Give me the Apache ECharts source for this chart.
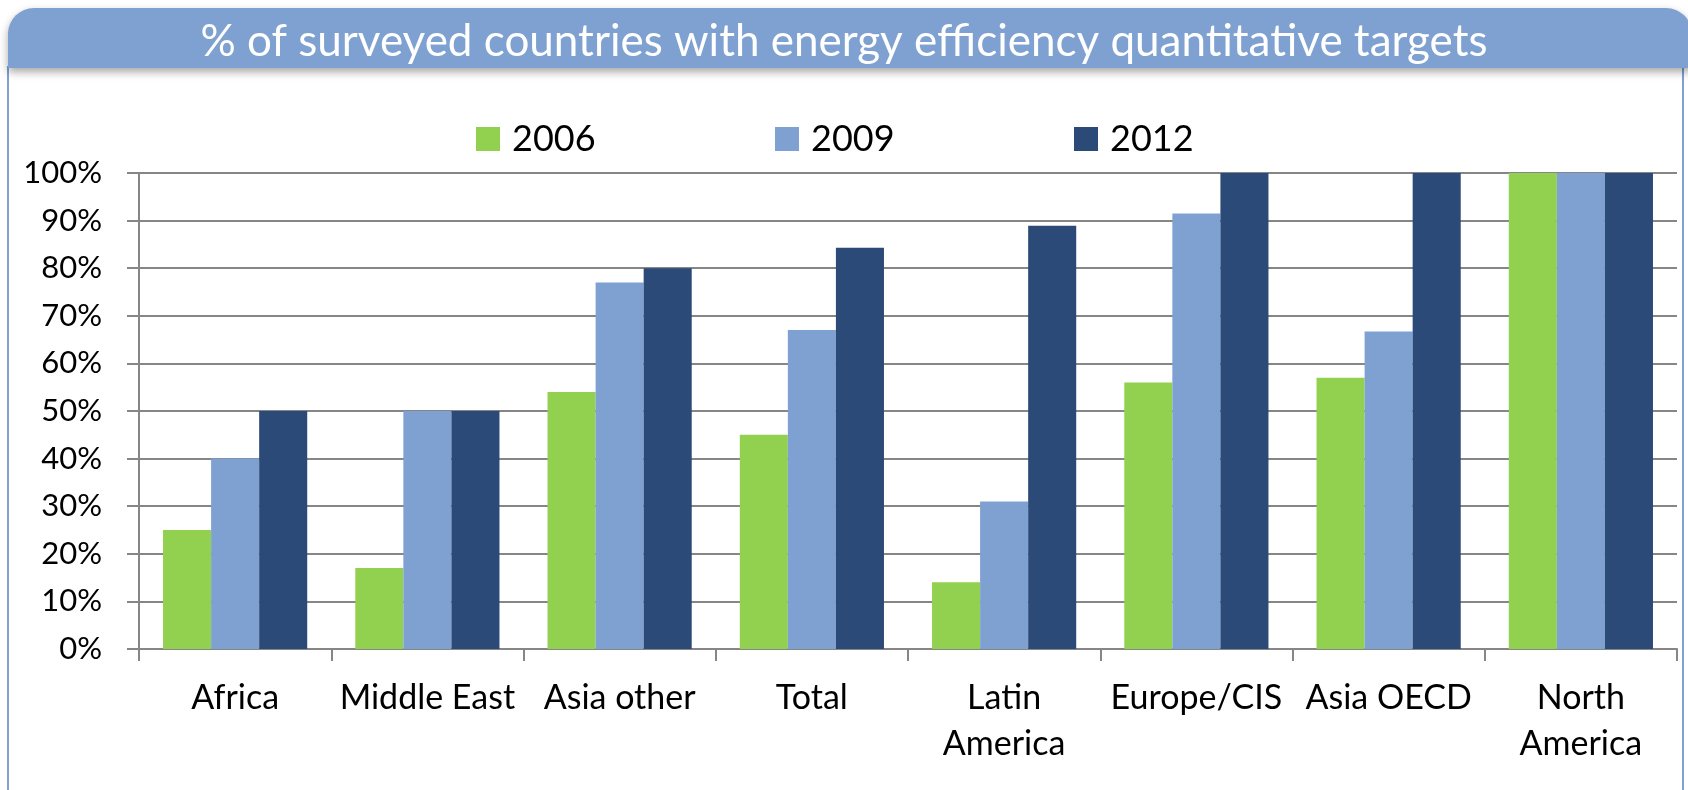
<!DOCTYPE html>
<html>
<head>
<meta charset="utf-8">
<script src="https://cdn.jsdelivr.net/npm/echarts@6/dist/echarts.min.js"></script>
<style>
html,body{margin:0;padding:0;background:#fff;}
#chart{width:1688px;height:790px;}
</style>
</head>
<body>
<div id="chart"></div>
<script>
const titleText = '% of surveyed countries with energy efficiency quantitative targets';
const categories = ['Africa', 'Middle East', 'Asia other', 'Total', 'Latin\nAmerica', 'Europe/CIS', 'Asia OECD', 'North\nAmerica'];
const seriesNames = ['2006', '2009', '2012'];
const values2006 = [25, 17, 54, 45, 14, 56, 57, 100];
const values2009 = [40, 50, 77, 67, 31, 91.5, 66.7, 100];
const values2012 = [50, 50, 80, 84.3, 88.9, 100, 100, 100];
const yTicks = [0, 10, 20, 30, 40, 50, 60, 70, 80, 90, 100];

const colors = ['#92D050', '#7FA1D1', '#2C4A77'];
const FONT = 'Lato';
const chart = echarts.init(document.getElementById('chart'));

function legendAt(name, left) {
  return {
    data: [name],
    left: left,
    top: 114,
    icon: 'rect',
    itemWidth: 24,
    itemHeight: 24,
    selectedMode: false,
    textStyle: {fontFamily: FONT, fontSize: 36, color: '#000', lineHeight: 40, padding: [0, 0, 0, 7]}
  };
}

const seriesData = [values2006, values2009, values2012];

chart.setOption({
  animation: false,
  title: {
    text: titleText,
    left: 'center',
    top: 12,
    textStyle: {fontFamily: FONT, fontWeight: 'normal', fontSize: 44, color: '#fff', lineHeight: 50}
  },
  graphic: [
    {
      type: 'rect', z: -10, silent: true,
      shape: {x: 8, y: 67, width: 1675, height: 740},
      style: {fill: '#fff', stroke: '#7EA1D2', lineWidth: 2}
    },
    {
      type: 'rect', z: -5, silent: true,
      shape: {x: 8, y: 8, width: 1684, height: 60, r: [26, 26, 0, 0]},
      style: {fill: '#7EA1D1', shadowBlur: 8, shadowOffsetY: 4, shadowColor: 'rgba(0,0,0,0.35)'}
    }
  ],
  color: colors,
  legend: [legendAt(seriesNames[0], 471), legendAt(seriesNames[1], 770), legendAt(seriesNames[2], 1069)],
  grid: {left: 139, right: 11, top: 173, bottom: 141, containLabel: false},
  xAxis: {
    type: 'category',
    data: categories,
    axisLine: {lineStyle: {color: '#868686', width: 2}},
    axisTick: {show: true, length: 12, lineStyle: {color: '#868686', width: 2}},
    axisLabel: {interval: 0, margin: 26, fontFamily: FONT, fontSize: 34, lineHeight: 46, color: '#000'}
  },
  yAxis: {
    type: 'value',
    min: 0, max: 100, interval: 10,
    axisLine: {show: true, lineStyle: {color: '#868686', width: 2}},
    axisTick: {show: true, length: 12, lineStyle: {color: '#868686', width: 2}},
    splitLine: {lineStyle: {color: '#868686', width: 2}},
    axisLabel: {
      margin: 37, fontFamily: FONT, fontSize: 31, color: '#000',
      formatter: function (v) { return yTicks.indexOf(v) >= 0 ? v + '%' : ''; }
    }
  },
  series: seriesNames.map(function (n, i) {
    return {
      name: n,
      type: 'bar',
      data: seriesData[i],
      barGap: '0%',
      barCategoryGap: '25%',
      itemStyle: {color: colors[i]}
    };
  })
});
</script>
</body>
</html>
